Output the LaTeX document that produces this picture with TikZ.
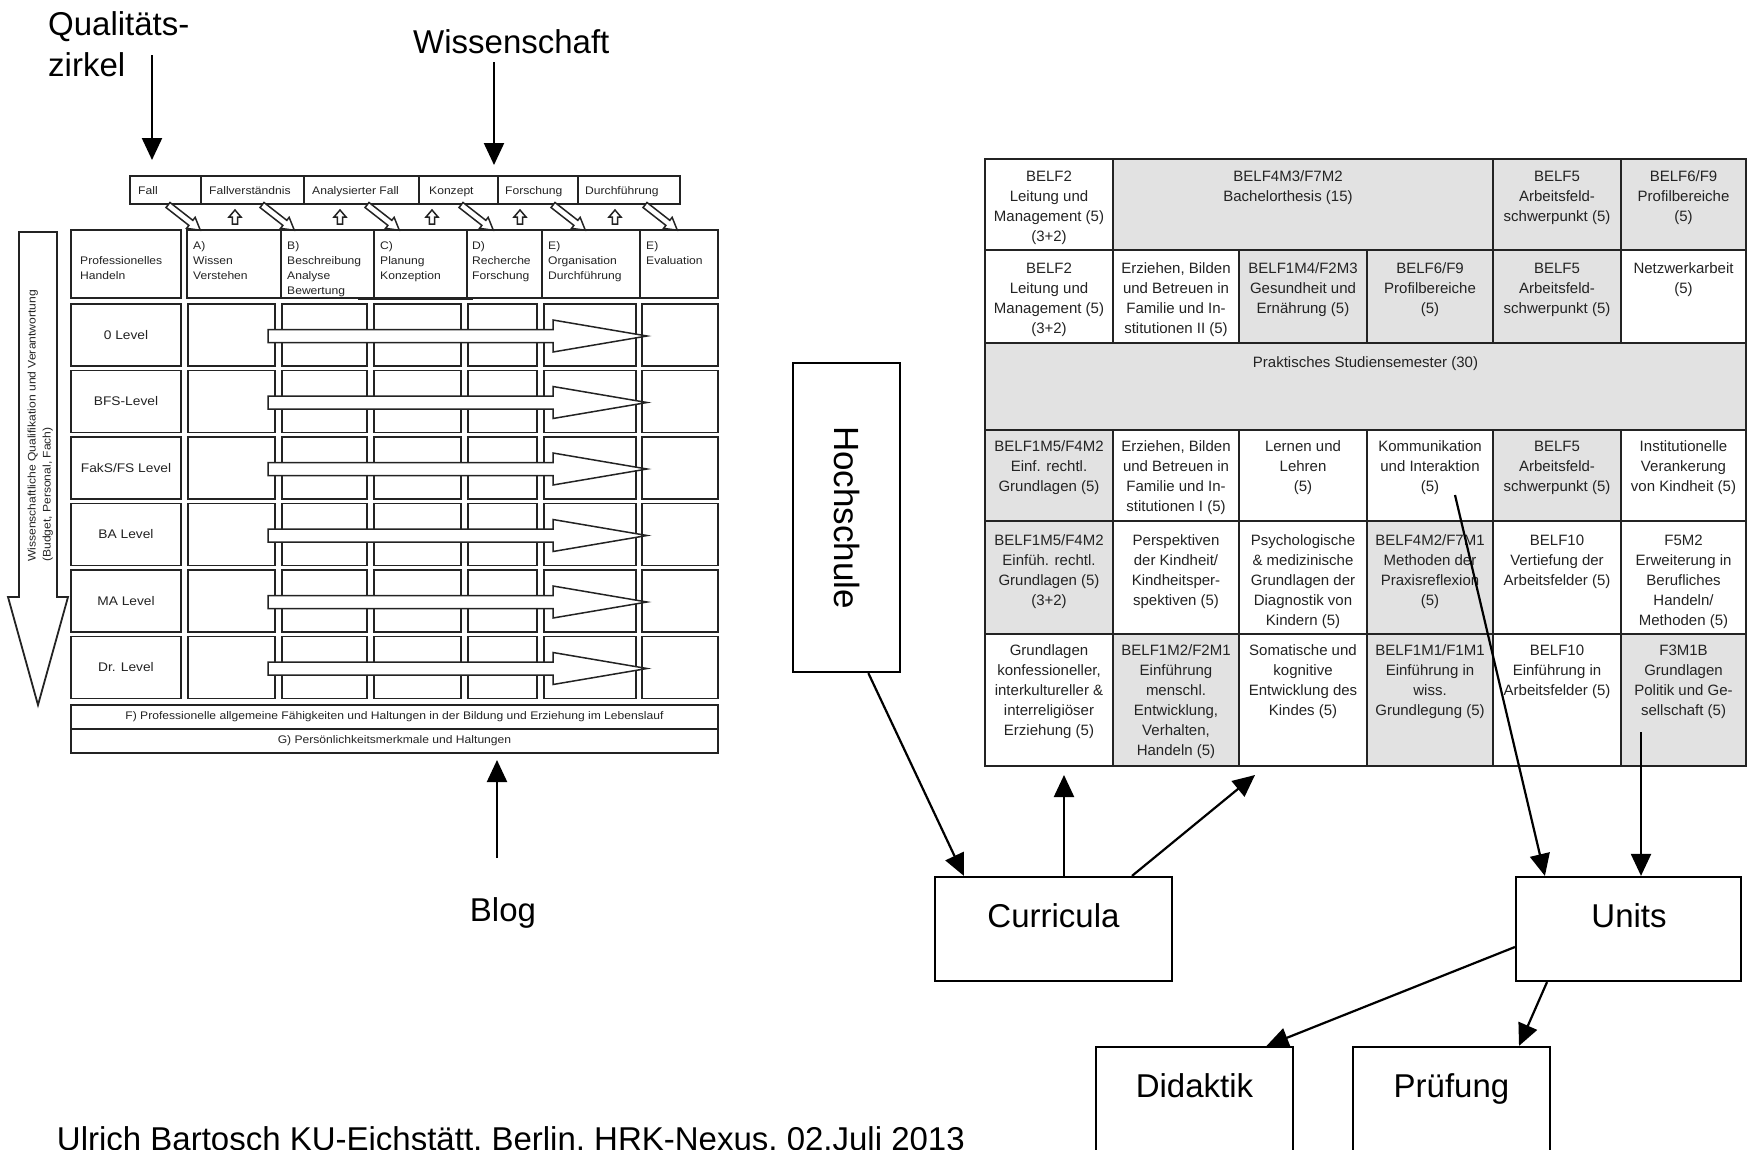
\documentclass[tikz,border=0pt]{standalone}
\usepackage{fontspec}
\setmainfont{Liberation Sans}
\newfontfamily\smallfont[FakeStretch=1.1]{Liberation Sans}
\usetikzlibrary{arrows.meta,calc}
\newcommand\myfs[2]{\fontsize{#1}{#2}\selectfont}
\definecolor{cellgray}{RGB}{226,226,226}
\definecolor{ink}{RGB}{35,35,35}
\tikzset{
  hollow/.style={draw=ink, fill=white, line width=1.5pt, line join=miter},
  lbox/.style={draw=ink, line width=1.6pt},
  small/.style={font=\smallfont\myfs{11}{15}, text=ink, inner sep=0pt},
  lvl/.style={font=\smallfont\myfs{12.5}{15}, text=ink, inner sep=0pt},
  big/.style={font=\myfs{33}{40}, inner sep=0pt},
  box/.style={draw, line width=2.2pt, inner sep=0pt},
  arr/.style={line width=2.2pt, -{Triangle[length=22pt,width=20pt]}},
  tcellb/.style={draw=ink, line width=1.3pt},
  ctext/.style={anchor=north, align=center, inner sep=0pt, font=\myfs{15}{20}, text=ink},
}
% hollow block arrow: x, y, angle, length, shaft half-width, head half-width, head length
\newcommand\hollowarrow[7]{%
  \begin{scope}[shift={(#1,#2)}, rotate=#3]
    \filldraw[hollow] (0,-#5) -- ({#4-#7},-#5) -- ({#4-#7},-#6) -- (#4,0)
      -- ({#4-#7},#6) -- ({#4-#7},#5) -- (0,#5) -- cycle;
  \end{scope}}
% table cell: name, x1, y1, x2, y2, fill, baseline offset, text
\newcommand\tc[8]{%
  \filldraw[tcellb, fill=#6] (#2,#3) rectangle (#4,#5);
  \node[ctext] (#1) at ({(#2+#4)/2},{#3+#7-14}) {\strut #8};}
\begin{document}
\begin{tikzpicture}[x=1pt,y=-1pt]
\useasboundingbox (0,0) rectangle (1748,1149);
\fill[white] (0,0) rectangle (1748,1149);

% ---------------- top labels ----------------
\node[big, anchor=base west] (q1) at (48,35) {Qualitäts-};
\node[big, anchor=base west] (q2) at (48,76) {zirkel};
\node[big, anchor=base west] (wi) at (413,53) {Wissenschaft};
\coordinate (qa) at (152,55);  \coordinate (qb) at (152,160);
\coordinate (wa) at (494,62);  \coordinate (wb) at (494,165);
\draw[arr] (qa) -- (qb);
\draw[arr] (wa) -- (wb);

% ---------------- left matrix: header strip ----------------
\draw[lbox] (130,176) rectangle (680,204);
\foreach \x in {201,304,419,498,578} \draw[lbox] (\x,176) -- (\x,204);
\node[small, anchor=base west] (h1) at (138,194) {Fall};
\node[small, anchor=base west] (h2) at (209,194) {Fallverständnis};
\node[small, anchor=base west] (h3) at (312,194) {Analysierter Fall};
\node[small, anchor=base west] (h4) at (429,194) {Konzept};
\node[small, anchor=base west] (h5) at (505,194) {Forschung};
\node[small, anchor=base west] (h6) at (585,194) {Durchführung};

% arrows between strip and column heads
\foreach \x in {168,262,367,461,553,645} \hollowarrow{\x}{205}{-38}{41}{3.2}{7}{12};
\foreach \x in {235,340,432,520,615} \hollowarrow{\x}{224}{90}{14}{2.6}{6}{7};

% column heads
\draw[lbox] (71,230) rectangle (181,298);
\draw[lbox] (187,230) rectangle (718,298);
\foreach \x in {281,374,467,542,640} \draw[lbox] (\x,230) -- (\x,298);
\draw[lbox] (358,299) -- (473,299);
\node[small, anchor=north west, align=left] (cP) at (80,254) {\strut Professionelles\\Handeln};
\node[small, anchor=north west, align=left] (cA) at (193,239) {\strut A)\\Wissen\\Verstehen};
\node[small, anchor=north west, align=left] (cB) at (287,239) {\strut B)\\Beschreibung\\Analyse\\Bewertung};
\node[small, anchor=north west, align=left] (cC) at (380,239) {\strut C)\\Planung\\Konzeption};
\node[small, anchor=north west, align=left] (cD) at (472,239) {\strut D)\\Recherche\\Forschung};
\node[small, anchor=north west, align=left] (cE) at (548,239) {\strut E)\\Organisation\\Durchführung};
\node[small, anchor=north west, align=left] (cF) at (646,239) {\strut E)\\Evaluation};

% grid rows
\foreach \lab [count=\i from 0] in {0 Level,BFS-Level,FakS/FS Level,BA Level,MA Level,Dr. Level}{
  \pgfmathsetmacro\ya{304+66.5*\i}
  \pgfmathsetmacro\yb{\ya+62}
  \pgfmathsetmacro\yc{\ya+32}
  \foreach \xa/\xb in {71/181,188/275,282/367,374/461,468/537,544/636,642/718}
    \draw[lbox] (\xa,\ya) rectangle (\xb,\yb);
  \node[lvl] (lv\i) at (126,\yc-1) {\lab};
  \hollowarrow{268}{\yc}{0}{379}{6.5}{16}{94}
}

% F and G rows
\draw[lbox] (71,705) rectangle (718,729);
\draw[lbox] (71,729) rectangle (718,753);
\node[small] (fF) at (394.5,717) {F) Professionelle allgemeine Fähigkeiten und Haltungen in der Bildung und Erziehung im Lebenslauf};
\node[small] (fG) at (394.5,741) {G) Persönlichkeitsmerkmale und Haltungen};

% big vertical arrow
\filldraw[hollow, line width=1.8pt] (19,232) -- (57,232) -- (57,597) -- (68,597) -- (38,705)
  -- (8,597) -- (19,597) -- cycle;
\node[small, rotate=90, anchor=base west] (va1) at (35.5,562) {Wissenschaftliche Qualifikation und Verantwortung};
\node[small, rotate=90, anchor=base west] (va2) at (50.5,562) {(Budget, Personal, Fach)};

% Blog
\coordinate (ba) at (497,858); \coordinate (bb) at (497,760);
\draw[arr] (ba) -- (bb);
\node[big, anchor=base] (blog) at (503,921) {Blog};

% footer
\node[big, anchor=base east] (foot) at (965,1150) {Ulrich Bartosch KU-Eichstätt, Berlin, HRK-Nexus, 02.Juli 2013};

% ---------------- right table ----------------
\tc{r1a}{985}{159}{1113}{250}{white}{22}{BELF2\\Leitung und\\Management (5)\\(3+2)}
\filldraw[tcellb, fill=cellgray] (1113,159) rectangle (1493,250);
\node[ctext] (r1b) at (1288,{159+22-14}) {\strut BELF4M3/F7M2\\Bachelorthesis (15)};
\tc{r1c}{1493}{159}{1621}{250}{cellgray}{22}{BELF5\\Arbeitsfeld-\\schwerpunkt (5)}
\tc{r1d}{1621}{159}{1746}{250}{cellgray}{22}{BELF6/F9\\Profilbereiche\\(5)}

\tc{r2a}{985}{250}{1113}{343}{white}{23}{BELF2\\Leitung und\\Management (5)\\(3+2)}
\tc{r2b}{1113}{250}{1239}{343}{white}{23}{Erziehen, Bilden\\und Betreuen in\\Familie und In-\\stitutionen II (5)}
\tc{r2c}{1239}{250}{1367}{343}{cellgray}{23}{BELF1M4/F2M3\\Gesundheit und\\Ernährung (5)}
\tc{r2d}{1367}{250}{1493}{343}{cellgray}{23}{BELF6/F9\\Profilbereiche\\(5)}
\tc{r2e}{1493}{250}{1621}{343}{cellgray}{23}{BELF5\\Arbeitsfeld-\\schwerpunkt (5)}
\tc{r2f}{1621}{250}{1746}{343}{white}{23}{Netzwerkarbeit\\(5)}

\tc{r3}{985}{343}{1746}{430}{cellgray}{24}{Praktisches Studiensemester (30)}

\tc{r4a}{985}{430}{1113}{521}{cellgray}{21}{BELF1M5/F4M2\\Einf. rechtl.\\Grundlagen (5)}
\tc{r4b}{1113}{430}{1239}{521}{white}{21}{Erziehen, Bilden\\und Betreuen in\\Familie und In-\\stitutionen I (5)}
\tc{r4c}{1239}{430}{1367}{521}{white}{21}{Lernen und\\Lehren\\(5)}
\tc{r4d}{1367}{430}{1493}{521}{white}{21}{Kommunikation\\und Interaktion\\(5)}
\tc{r4e}{1493}{430}{1621}{521}{cellgray}{21}{BELF5\\Arbeitsfeld-\\schwerpunkt (5)}
\tc{r4f}{1621}{430}{1746}{521}{white}{21}{Institutionelle\\Verankerung\\von Kindheit (5)}

\tc{r5a}{985}{521}{1113}{634}{cellgray}{24}{BELF1M5/F4M2\\Einfüh. rechtl.\\Grundlagen (5)\\(3+2)}
\tc{r5b}{1113}{521}{1239}{634}{white}{24}{Perspektiven\\der Kindheit/\\Kindheitsper-\\spektiven (5)}
\tc{r5c}{1239}{521}{1367}{634}{white}{24}{Psychologische\\\& medizinische\\Grundlagen der\\Diagnostik von\\Kindern (5)}
\tc{r5d}{1367}{521}{1493}{634}{cellgray}{24}{BELF4M2/F7M1\\Methoden der\\Praxisreflexion\\(5)}
\tc{r5e}{1493}{521}{1621}{634}{white}{24}{BELF10\\Vertiefung der\\Arbeitsfelder (5)}
\tc{r5f}{1621}{521}{1746}{634}{white}{24}{F5M2\\Erweiterung in\\Berufliches\\Handeln/\\Methoden (5)}

\tc{r6a}{985}{634}{1113}{766}{white}{21}{Grundlagen\\konfessioneller,\\interkultureller \&\\interreligiöser\\Erziehung (5)}
\tc{r6b}{1113}{634}{1239}{766}{cellgray}{21}{BELF1M2/F2M1\\Einführung\\menschl.\\Entwicklung,\\Verhalten,\\Handeln (5)}
\tc{r6c}{1239}{634}{1367}{766}{white}{21}{Somatische und\\kognitive\\Entwicklung des\\Kindes (5)}
\tc{r6d}{1367}{634}{1493}{766}{cellgray}{21}{BELF1M1/F1M1\\Einführung in\\wiss.\\Grundlegung (5)}
\tc{r6e}{1493}{634}{1621}{766}{white}{21}{BELF10\\Einführung in\\Arbeitsfelder (5)}
\tc{r6f}{1621}{634}{1746}{766}{cellgray}{21}{F3M1B\\Grundlagen\\Politik und Ge-\\sellschaft (5)}
\draw[tcellb] (985,159) rectangle (1746,766);

% ---------------- right boxes ----------------
\node[box, rotate=-90, minimum width=309pt, minimum height=107pt, font=\myfs{35}{40}] (hs) at (846.5,517.5) {Hochschule};
\node[box, minimum width=237pt, minimum height=104pt] (cur) at (1053.5,929) {};
\node[big, anchor=base] (curt) at (1053.5,927) {Curricula};
\node[box, minimum width=225pt, minimum height=104pt] (un) at (1628.5,929) {};
\node[big, anchor=base] (unt) at (1629,927) {Units};
\node[box, minimum width=197pt, minimum height=120pt] (did) at (1194.5,1107) {};
\node[big, anchor=base] (didt) at (1194.5,1097) {Didaktik};
\node[box, minimum width=197pt, minimum height=120pt] (pr) at (1451.5,1107) {};
\node[big, anchor=base] (prt) at (1451.5,1097) {Prüfung};

\coordinate (tc1) at (1064,775);
\coordinate (tc2) at (1255,775);
\coordinate (kstart) at (1455,495);
\coordinate (fstart) at (1641,732);

\draw[arr] ($(hs.east)!0.4!(hs.north east)$) -- ($(cur.north west)+(30,0)$);
\draw[arr] ($(cur.north)+(10.5,0)$) -- (tc1);
\draw[arr] ($(cur.north)+(78.5,0)$) -- (tc2);
\draw[arr] (kstart) -- ($(un.north west)+(30,0)$);
\draw[arr] (fstart) -- ($(un.north)+(12.5,0)$);
\draw[arr] ($(un.west)+(0,18)$) -- ($(did.north)+(72,0)$);
\draw[arr] ($(un.south)+(-81.5,0)$) -- ($(pr.north)+(67.5,0)$);
\end{tikzpicture}
\end{document}
